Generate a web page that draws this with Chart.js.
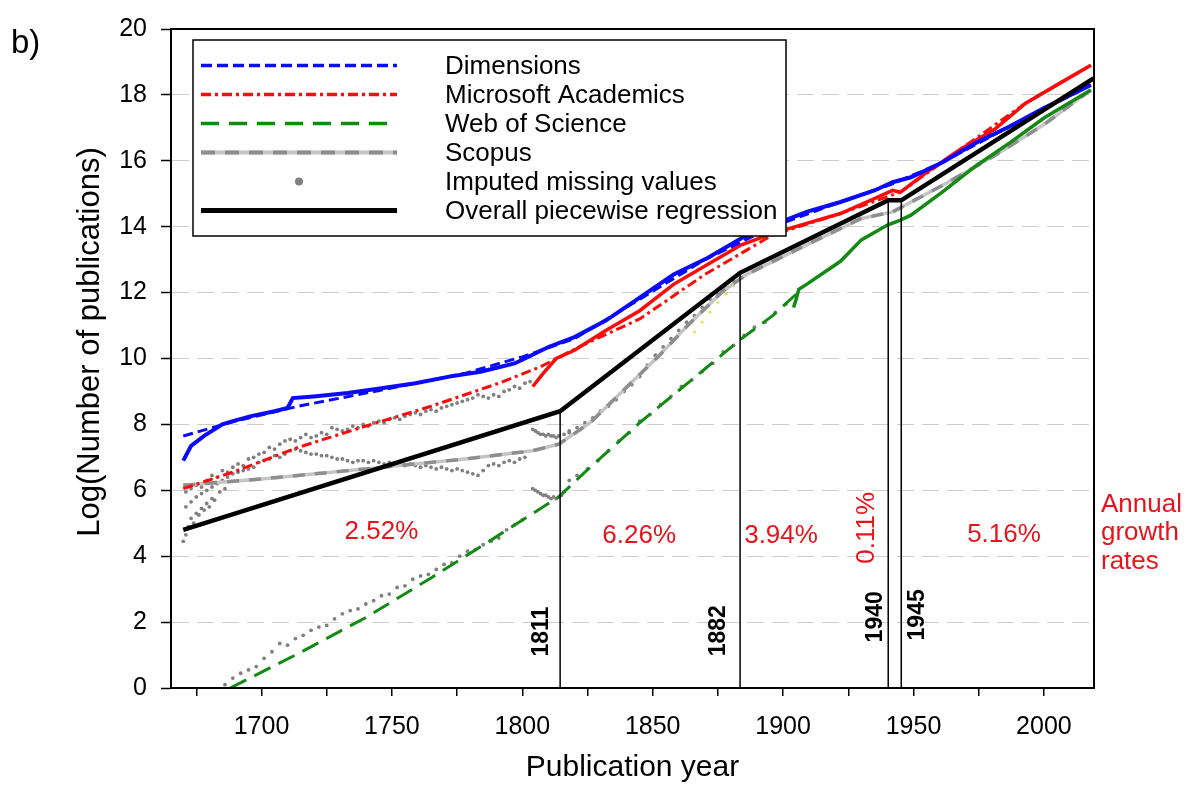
<!DOCTYPE html>
<html>
<head>
<meta charset="utf-8">
<script src="https://cdn.jsdelivr.net/npm/chart.js@4.4.1/dist/chart.umd.min.js"></script>
<style>
  html, body { margin: 0; padding: 0; background: #fff; }
  canvas { display: block; }
</style>
</head>
<body>
<canvas id="pub_chart" width="1185" height="787"></canvas>
<script>
// ---- data (year, log number of publications) ----

// Dimensions: observed counts and fitted curve
const dimYears = [1670, 1673, 1678, 1685, 1689, 1696, 1705, 1710, 1712, 1720, 1733, 1746, 1759, 1772, 1784, 1797, 1801, 1810, 1820, 1832, 1845, 1858, 1871, 1884, 1896, 1909, 1922, 1935, 1942, 1949, 1961, 1974, 1987, 2000, 2018];
const dimValues = [6.9, 7.35, 7.65, 8.0, 8.1, 8.25, 8.4, 8.5, 8.8, 8.85, 8.95, 9.1, 9.25, 9.45, 9.6, 9.85, 10.0, 10.35, 10.65, 11.15, 11.85, 12.55, 13.05, 13.65, 14.05, 14.45, 14.75, 15.1, 15.35, 15.5, 15.95, 16.55, 17.05, 17.6, 18.3];
const dimFitYears = [1670, 1690, 1714, 1740, 1778, 1800, 1820, 1845, 1870, 1896, 1922, 1942, 1961, 1987, 2018];
const dimFitValues = [7.65, 8.1, 8.55, 8.95, 9.55, 10.05, 10.6, 11.8, 13.0, 14.0, 14.75, 15.3, 15.95, 17.05, 18.3];

// Microsoft Academics
const maYears = [1804, 1808, 1813, 1820, 1832, 1845, 1858, 1871, 1884, 1896, 1909, 1922, 1935, 1942, 1945, 1955, 1968, 1981, 1993, 2006, 2018];
const maValues = [9.15, 9.55, 10.0, 10.25, 10.85, 11.45, 12.25, 12.85, 13.45, 13.8, 14.1, 14.4, 14.85, 15.1, 15.05, 15.65, 16.35, 16.95, 17.75, 18.35, 18.9];
const maFitYears = [1670, 1689, 1714, 1740, 1765, 1791, 1807, 1823, 1845, 1870, 1896, 1922, 1945, 1968, 1993, 2018];
const maFitValues = [6.05, 6.55, 7.3, 7.95, 8.55, 9.25, 9.75, 10.4, 11.2, 12.55, 13.75, 14.4, 15.05, 16.35, 17.75, 18.9];

// Web of Science
const wosYears = [1904, 1905, 1906, 1909, 1922, 1930, 1940, 1945, 1949, 1961, 1974, 1987, 2000, 2018];
const wosValues = [11.55, 11.8, 12.1, 12.25, 12.95, 13.6, 14.05, 14.2, 14.35, 15.05, 15.85, 16.55, 17.3, 18.15];
const wosFitYears = [1688, 1714, 1740, 1765, 1791, 1814, 1824, 1845, 1871, 1884, 1896, 1905];
const wosFitValues = [0.0, 1.04, 2.14, 3.34, 4.64, 5.8, 6.55, 8.05, 9.75, 10.6, 11.3, 11.95];

// Scopus
const scoYears = [1670, 1701, 1740, 1778, 1804, 1814, 1826, 1839, 1852, 1864, 1877, 1886, 1909, 1930, 1942, 1961, 1981, 2000, 2018];
const scoValues = [6.15, 6.35, 6.65, 6.95, 7.2, 7.4, 8.05, 9.05, 10.05, 11.05, 12.05, 12.55, 13.45, 14.25, 14.45, 15.25, 16.15, 17.1, 18.15];

// imputed missing values (grey dots), by cluster
const impUpperYears = [1671, 1673, 1675, 1677, 1679, 1681, 1683, 1685, 1687, 1689, 1691, 1693, 1695, 1697, 1699, 1701, 1703, 1705, 1707, 1709, 1711, 1713, 1715, 1717, 1719, 1721, 1723, 1725, 1727, 1729, 1731, 1733, 1735, 1737, 1739, 1741, 1743, 1745, 1747, 1749, 1751, 1753, 1755, 1757, 1759, 1761, 1763, 1765, 1767, 1769, 1771, 1773, 1775, 1777, 1779, 1781, 1783, 1785, 1787, 1789, 1791, 1793, 1795, 1797, 1799, 1801, 1803];
const impUpperValues = [5.95, 6.05, 6.15, 6.1, 6.3, 6.45, 6.4, 6.6, 6.55, 6.7, 6.8, 6.75, 6.95, 7.0, 7.1, 7.15, 7.3, 7.25, 7.4, 7.5, 7.55, 7.5, 7.6, 7.7, 7.6, 7.65, 7.75, 7.7, 7.9, 7.85, 7.8, 7.85, 7.95, 7.9, 8.0, 7.95, 8.05, 8.1, 8.05, 8.15, 8.2, 8.15, 8.25, 8.3, 8.35, 8.3, 8.4, 8.45, 8.4, 8.5, 8.55, 8.6, 8.65, 8.7, 8.75, 8.8, 8.9, 8.85, 8.8, 8.9, 8.85, 9.0, 9.05, 9.15, 9.1, 9.25, 9.3];
const impMidYears = [1671, 1673, 1675, 1677, 1679, 1681, 1683, 1685, 1687, 1689, 1691, 1693, 1695, 1697, 1699, 1701, 1703, 1705, 1707, 1709, 1711, 1713, 1715, 1717, 1719, 1721, 1723, 1725, 1727, 1729, 1731, 1733, 1735, 1737, 1739, 1741, 1743, 1745, 1747, 1749, 1751, 1753, 1755, 1757, 1759, 1761, 1763, 1765, 1767, 1769, 1771, 1773, 1775, 1777, 1779, 1781, 1783, 1785, 1787, 1789, 1791, 1793, 1795, 1797, 1799, 1801];
const impMidValues = [5.5, 5.65, 5.8, 5.9, 6.0, 6.1, 6.2, 6.3, 6.4, 6.5, 6.55, 6.6, 6.65, 6.7, 6.85, 6.9, 6.95, 7.05, 7.0, 7.1, 7.2, 7.25, 7.2, 7.15, 7.1, 7.1, 7.05, 7.05, 7.0, 6.95, 6.95, 6.9, 6.85, 6.9, 6.9, 6.85, 6.9, 6.85, 6.8, 6.85, 6.8, 6.8, 6.75, 6.8, 6.75, 6.7, 6.75, 6.7, 6.65, 6.7, 6.65, 6.6, 6.65, 6.6, 6.55, 6.5, 6.45, 6.6, 6.75, 6.8, 6.75, 6.85, 6.9, 6.85, 6.95, 7.0];
const impLowYears = [1670, 1671, 1672, 1673, 1674, 1675, 1676, 1677, 1678, 1679, 1680, 1681, 1682, 1684, 1686];
const impLowValues = [4.45, 4.65, 4.9, 5.15, 5.0, 5.3, 5.25, 5.45, 5.4, 5.6, 5.5, 5.75, 5.7, 5.95, 6.05];
const impBreakYears = [1804, 1805, 1806, 1807, 1808, 1809, 1810, 1811, 1812, 1813, 1814, 1816, 1818, 1804, 1805, 1806, 1807, 1808, 1809, 1810, 1811, 1812, 1813, 1814, 1815, 1816];
const impBreakValues = [7.85, 7.8, 7.75, 7.7, 7.7, 7.65, 7.7, 7.65, 7.65, 7.6, 7.65, 7.7, 7.75, 6.05, 6.0, 5.95, 5.9, 5.85, 5.85, 5.8, 5.75, 5.8, 5.75, 5.8, 5.85, 5.95];
const impScoYears = [1818, 1821, 1824, 1827, 1830, 1833, 1836, 1839, 1842, 1845, 1848, 1851, 1854, 1857, 1860, 1863, 1866, 1869, 1872, 1875, 1878, 1881];
const impScoValues = [7.8, 7.9, 8.05, 8.2, 8.4, 8.55, 8.75, 9.0, 9.2, 9.45, 9.8, 10.1, 10.35, 10.6, 10.85, 11.1, 11.3, 11.55, 11.8, 11.95, 12.15, 12.35];
const impWosYears = [1686, 1689, 1692, 1695, 1698, 1701, 1704, 1707, 1710, 1713, 1716, 1719, 1722, 1725, 1728, 1731, 1734, 1737, 1740, 1743, 1746, 1749, 1752, 1755, 1758, 1761, 1764, 1767, 1770, 1773, 1776, 1779, 1782, 1785, 1788, 1791, 1794, 1797, 1800, 1818, 1821, 1825, 1829, 1833, 1837, 1841, 1845, 1849, 1853, 1857, 1861, 1865, 1869, 1873, 1877, 1881, 1885, 1889, 1893, 1897, 1901];
const impWosValues = [0.1, 0.3, 0.45, 0.55, 0.65, 0.9, 1.1, 1.35, 1.3, 1.5, 1.6, 1.75, 1.85, 1.9, 2.1, 2.25, 2.35, 2.4, 2.55, 2.65, 2.8, 2.85, 3.05, 3.1, 3.3, 3.4, 3.45, 3.6, 3.75, 3.8, 4.0, 4.15, 4.2, 4.35, 4.45, 4.55, 4.8, 4.95, 5.1, 6.3, 6.45, 6.65, 6.9, 7.2, 7.5, 7.75, 8.1, 8.3, 8.6, 8.85, 9.15, 9.35, 9.6, 9.85, 10.2, 10.4, 10.7, 10.95, 11.1, 11.4, 11.65];

// short interpolated stretch (yellow dots)
const yelYears = [1866, 1869, 1872, 1875, 1878, 1881, 1884, 1886];
const yelValues = [10.8, 11.1, 11.4, 11.7, 11.95, 12.2, 12.45, 12.55];

// overall piecewise regression (knots)
const regYears = [1670, 1814.5, 1883.5, 1940.3, 1945.3, 2019];
const regValues = [4.8, 8.4, 12.6, 14.8, 14.8, 18.5];

// breakpoints and annual growth rates
const breakLabels = ['1811', '1882', '1940', '1945'];
const rateLabels = ['2.52%', '6.26%', '3.94%', '0.11%', '5.16%'];
const legendLabels = ['Dimensions', 'Microsoft Academics', 'Web of Science', 'Scopus', 'Imputed missing values', 'Overall piecewise regression'];

// ---- styles ----
const FONT = '"Liberation Sans", Arial, Helvetica, sans-serif';
const BLUE = '#0a0aff', RED = '#ff0a0a', GREEN = '#138a13', TXTRED = '#e8141c';
const GREY_DOT = '#808080', SCO_LIGHT = '#c4c4c4', SCO_DARK = '#8e8e8e';

Chart.defaults.font.family = FONT;
Chart.defaults.color = '#000';

const pts = (xs, ys) => xs.map((v, i) => ({ x: v, y: ys[i] }));
const lineSet = (label, xs, ys, color, width, dash) => ({
    label, data: pts(xs, ys), showLine: true, borderColor: color, borderWidth: width,
    borderDash: dash || [], pointRadius: 0, fill: false, tension: 0
});
const dotSet = (label, xs, ys, color, r) => ({
    label, data: pts(xs, ys), showLine: false, pointRadius: r, pointBackgroundColor: color,
    pointBorderWidth: 0, borderColor: color
});

const impYears = [].concat(impUpperYears, impMidYears, impLowYears, impBreakYears, impScoYears, impWosYears);
const impValues = [].concat(impUpperValues, impMidValues, impLowValues, impBreakValues, impScoValues, impWosValues);

// breakpoint verticals run from 0 up to the regression line
const breakSets = breakLabels.map((b, i) =>
    lineSet('break ' + b, [regYears[i + 1], regYears[i + 1]], [0, regValues[i + 1]], '#000', 1.5));

// first in list = drawn on top
const datasets = [
    ...breakSets,
    lineSet(legendLabels[5], regYears, regValues, '#000', 4.5),
    lineSet(legendLabels[0], dimYears, dimValues, BLUE, 4),
    lineSet('Dimensions fit', dimFitYears, dimFitValues, BLUE, 3, [10, 5]),
    lineSet(legendLabels[1], maYears, maValues, RED, 3.5),
    lineSet('Microsoft Academics fit', maFitYears, maFitValues, RED, 3, [10, 4, 3, 4]),
    lineSet(legendLabels[2], wosYears, wosValues, GREEN, 3.5),
    lineSet('Web of Science fit', wosFitYears, wosFitValues, GREEN, 3, [18, 9]),
    lineSet('Scopus dash', scoYears, scoValues, SCO_DARK, 3.5, [12, 10]),
    lineSet(legendLabels[3], scoYears, scoValues, SCO_LIGHT, 3.5),
    dotSet(legendLabels[4], impYears, impValues, GREY_DOT, 1.9),
    dotSet('interpolated', yelYears, yelValues, '#e2e23a', 1.4)
];

// text, frame and legend drawn on the chart
const annotate = {
    id: 'annotate',
    afterDatasetsDraw(chart) {
        const { ctx, chartArea: a, scales: { x, y } } = chart;
        ctx.save();
        ctx.strokeStyle = '#000';
        ctx.lineWidth = 2;
        ctx.strokeRect(a.left, a.top, a.right - a.left, a.bottom - a.top);

        // growth rates
        const rateAt = [[1746, 4.74], [1844.8, 4.62], [1899.2, 4.62], [1932.2, 4.86], [1984.7, 4.65]];
        ctx.fillStyle = TXTRED;
        ctx.font = '26px ' + FONT;
        ctx.textAlign = 'center';
        ctx.textBaseline = 'middle';
        rateLabels.forEach((t, i) => {
            const px = x.getPixelForValue(rateAt[i][0]), py = y.getPixelForValue(rateAt[i][1]);
            if (t === '0.11%') {
                ctx.save(); ctx.translate(px, py); ctx.rotate(-Math.PI / 2); ctx.fillText(t, 0, 0); ctx.restore();
            } else {
                ctx.fillText(t, px, py);
            }
        });
        ctx.textAlign = 'left';
        ['Annual', 'growth', 'rates'].forEach((t, i) => {
            ctx.fillText(t, a.right + 7, y.getPixelForValue(5.56) + i * 28.5);
        });

        // breakpoint years, rotated
        const yearOff = [-18, -21, -12.5, 16.5];
        const yearAt = [1.71, 1.74, 2.16, 2.22];
        ctx.fillStyle = '#000';
        ctx.font = 'bold 23px ' + FONT;
        ctx.textAlign = 'center';
        breakLabels.forEach((t, i) => {
            const px = x.getPixelForValue(regYears[i + 1]) + yearOff[i];
            const py = y.getPixelForValue(yearAt[i]);
            ctx.save(); ctx.translate(px, py); ctx.rotate(-Math.PI / 2); ctx.fillText(t, 0, 0); ctx.restore();
        });

        // y title and panel letter
        ctx.font = '31px ' + FONT;
        ctx.save(); ctx.translate(90, 342); ctx.rotate(-Math.PI / 2);
        ctx.fillText('Log(Number of publications)', 0, 0); ctx.restore();
        ctx.textAlign = 'left';
        ctx.font = '33px ' + FONT;
        ctx.fillText('b)', 11, 44);

        // legend
        const lx = a.left + 22, ly = a.top + 11, lw = 593, lh = 196;
        ctx.fillStyle = '#fff';
        ctx.fillRect(lx, ly, lw, lh);
        ctx.lineWidth = 1.5;
        ctx.strokeStyle = '#000';
        ctx.strokeRect(lx, ly, lw, lh);
        const sx0 = lx + 8, sx1 = lx + 204;
        const rowY = i => ly + 25.5 + i * 29;
        const seg = (row, color, w, dash) => {
            ctx.beginPath(); ctx.setLineDash(dash); ctx.strokeStyle = color; ctx.lineWidth = w;
            ctx.moveTo(sx0, rowY(row)); ctx.lineTo(sx1, rowY(row)); ctx.stroke();
        };
        seg(0, BLUE, 3.5, [11, 5]);
        seg(1, RED, 3.5, [10, 4, 3, 4]);
        seg(2, GREEN, 3.5, [18, 10]);
        seg(3, SCO_LIGHT, 4, []);
        seg(3, SCO_DARK, 4, [14, 10]);
        ctx.setLineDash([]);
        ctx.fillStyle = GREY_DOT;
        ctx.beginPath(); ctx.arc((sx0 + sx1) / 2, rowY(4), 4, 0, Math.PI * 2); ctx.fill();
        seg(5, '#000', 5, []);
        ctx.setLineDash([]);
        ctx.fillStyle = '#000';
        ctx.font = '26px ' + FONT;
        ctx.textAlign = 'left';
        ctx.textBaseline = 'middle';
        legendLabels.forEach((t, i) => ctx.fillText(t, lx + 252, rowY(i) + 1));
        ctx.restore();
    }
};

new Chart(document.getElementById('pub_chart').getContext('2d'), {
    type: 'scatter',
    data: { datasets },
    options: {
        responsive: false,
        animation: false,
        layout: { padding: { top: 22, right: 91, bottom: 0, left: 0 } },
        plugins: { legend: { display: false }, tooltip: { enabled: false } },
        scales: {
            x: {
                type: 'linear', min: 1665.3, max: 2019.2,
                afterFit: s => { s.height = 99; },
                grid: { drawOnChartArea: false, tickLength: 8, color: '#000', lineWidth: 1.5 },
                border: { color: '#000', width: 2 },
                ticks: {
                    stepSize: 25, includeBounds: false, autoSkip: false, maxRotation: 0, padding: 16,
                    font: { size: 25 }, color: '#000',
                    callback: v => (v % 50 === 0 ? String(v) : '')
                },
                title: { display: true, text: 'Publication year', font: { size: 30 }, color: '#000', padding: { top: 0, bottom: 1 } }
            },
            y: {
                min: 0, max: 20,
                afterFit: s => { s.width = 171; },
                grid: { color: '#cdcdcd', lineWidth: 1, tickLength: 10, tickColor: '#000', tickWidth: 1.5 },
                border: { color: '#000', width: 2, dash: [17, 8] },
                ticks: { stepSize: 2, padding: 14, font: { size: 25 }, color: '#000' }
            }
        }
    },
    plugins: [annotate]
});
</script>
</body>
</html>
